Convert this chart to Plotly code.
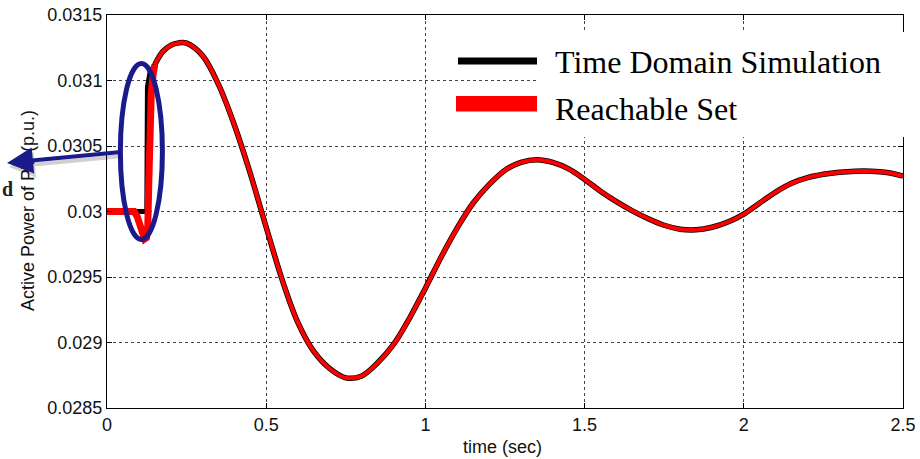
import plotly.graph_objects as go

# ---------------- data ----------------
# Time domain simulation: pre-disturbance and step part
tds_step_t = [0.0, 0.125, 0.127, 0.135, 0.150]
tds_step_v = [0.0300, 0.0300, 0.03095, 0.03106, 0.03112]

# Time domain simulation: oscillation after the step
tds_t = [0.15, 0.175, 0.20, 0.225, 0.25, 0.30, 0.35, 0.40, 0.45, 0.50,
         0.55, 0.60, 0.65, 0.70, 0.75, 0.80, 0.85, 0.90, 0.95, 1.00,
         1.05, 1.10, 1.15, 1.20, 1.25, 1.30, 1.35, 1.40, 1.45, 1.50,
         1.55, 1.60, 1.65, 1.70, 1.75, 1.80, 1.85, 1.90, 1.95, 2.00,
         2.05, 2.10, 2.15, 2.20, 2.25, 2.30, 2.35, 2.40, 2.45, 2.50]
tds_v = [0.03112, 0.03122, 0.031268, 0.031287, 0.031285, 0.03119, 0.03097, 0.03066,
         0.03029, 0.02988, 0.02948, 0.02915, 0.02893, 0.02880, 0.02873, 0.028745,
         0.028845, 0.028985, 0.029185, 0.029415, 0.029655, 0.029875, 0.030065,
         0.030205, 0.030315, 0.030375, 0.030395, 0.030375, 0.030325, 0.030245,
         0.030155, 0.030075, 0.030005, 0.029945, 0.029895, 0.029865, 0.029860,
         0.029880, 0.029920, 0.029980, 0.030065, 0.030148, 0.030215, 0.030258,
         0.030284, 0.030300, 0.030308, 0.030308, 0.030297, 0.030270]

# Reachable set: initial band with dip and rise
rs_start_t = [0.0, 0.085, 0.095, 0.105, 0.112, 0.118, 0.124, 0.128, 0.131,
              0.135, 0.139, 0.145, 0.150]
rs_start_v = [0.0300, 0.0300, 0.02996, 0.02988, 0.02982, 0.02979, 0.02980,
              0.02988, 0.03020, 0.03060, 0.03090, 0.03105, 0.03112]

# Reachable set after the rise (coincides with the simulation)
rs_t = list(tds_t)
rs_v = list(tds_v)

x_ticks = [0, 0.5, 1, 1.5, 2, 2.5]
x_ticktext = ["0", "0.5", "1", "1.5", "2", "2.5"]
y_ticks = [0.0285, 0.029, 0.0295, 0.03, 0.0305, 0.031, 0.0315]
y_ticktext = ["0.0285", "0.029", "0.0295", "0.03", "0.0305", "0.031", "0.0315"]

legend_labels = ["Time Domain Simulation", "Reachable Set"]
y_title = "Active Power of PV (p.u.)"
x_title = "time (sec)"

NAVY = "#1A1A8C"
W, H = 920, 459
ML, MR, MT, MB = 107, 17, 15, 51
PW, PH = W - ML - MR, H - MT - MB


def px(x):
    return (x - ML) / PW


def py(y):
    return (H - MB - y) / PH


fig = go.Figure()
fig.add_trace(go.Scatter(x=tds_step_t, y=tds_step_v, mode="lines",
                         line=dict(color="black", width=5),
                         name=legend_labels[0], showlegend=False))
fig.add_trace(go.Scatter(x=tds_t, y=tds_v, mode="lines",
                         line=dict(color="black", width=5.5, shape="spline", smoothing=1),
                         name=legend_labels[0], showlegend=False))
fig.add_trace(go.Scatter(x=rs_start_t, y=rs_start_v, mode="lines",
                         line=dict(color="#FF0000", width=7),
                         name=legend_labels[1], showlegend=False))
fig.add_trace(go.Scatter(x=rs_t, y=rs_v, mode="lines",
                         line=dict(color="#FF0000", width=4, shape="spline", smoothing=1),
                         name=legend_labels[1], showlegend=False))

axis_common = dict(showline=True, linecolor="black", linewidth=1, mirror="ticks",
                   ticks="inside", ticklen=5, tickcolor="black",
                   showgrid=True, gridcolor="#444444", griddash="dot", gridwidth=1,
                   zeroline=False, automargin=False,
                   tickfont=dict(family="Liberation Sans, Arial", size=18, color="#111111"))

fig.update_xaxes(range=[0, 2.5], tickvals=x_ticks, ticktext=x_ticktext, **axis_common)
fig.update_yaxes(range=[0.0285, 0.0315], tickvals=y_ticks, ticktext=y_ticktext, **axis_common)

shapes = [
    # ellipse around the initial transient
    dict(type="circle", xref="x", yref="y", x0=0.042, x1=0.174, y0=0.029786, y1=0.03113,
         line=dict(color=NAVY, width=5), layer="above"),
    # white legend background (hides grid and right axis)
    dict(type="rect", xref="paper", yref="paper", x0=px(538), x1=px(910), y0=py(137), y1=py(32),
         fillcolor="white", line=dict(width=0), layer="above"),
    # legend samples
    dict(type="line", xref="paper", yref="paper", x0=px(458), x1=px(537), y0=py(61), y1=py(61),
         line=dict(color="black", width=7), layer="above"),
    dict(type="rect", xref="paper", yref="paper", x0=px(456), x1=px(537), y0=py(111.5), y1=py(96),
         fillcolor="#FF0000", line=dict(width=0), layer="above"),
]

annotations = [
    dict(text=y_title, xref="paper", yref="paper", x=px(28), y=py(211), textangle=-90,
         showarrow=False, xanchor="center", yanchor="middle",
         font=dict(family="Liberation Sans, Arial", size=18, color="#111111")),
    dict(text=x_title, xref="paper", yref="paper", x=px(502.5), y=py(447),
         showarrow=False, xanchor="center", yanchor="middle",
         font=dict(family="Liberation Sans, Arial", size=18, color="#111111")),
    dict(text="<b>d</b>", xref="paper", yref="paper", x=px(0), y=py(189),
         showarrow=False, xanchor="left", yanchor="middle",
         font=dict(family="Liberation Serif, Times New Roman", size=20, color="#222222")),
    # arrow shadow
    dict(text="", xref="paper", yref="paper", x=px(9), y=py(167), ax=113, ay=-11,
         showarrow=True, arrowhead=2, arrowsize=1.3, arrowwidth=4,
         arrowcolor="rgba(0,0,0,0.18)", standoff=0),
    # arrow
    dict(text="", xref="paper", yref="paper", x=px(7), y=py(163), ax=113, ay=-11,
         showarrow=True, arrowhead=2, arrowsize=1.3, arrowwidth=4,
         arrowcolor=NAVY, standoff=0),
    dict(text=legend_labels[0], xref="paper", yref="paper", x=px(553), y=py(62),
         showarrow=False, xanchor="left", yanchor="middle",
         font=dict(family="Liberation Serif, Times New Roman", size=32, color="black")),
    dict(text=legend_labels[1], xref="paper", yref="paper", x=px(553), y=py(108.5),
         showarrow=False, xanchor="left", yanchor="middle",
         font=dict(family="Liberation Serif, Times New Roman", size=32, color="black")),
]

fig.update_layout(width=W, height=H, margin=dict(l=ML, r=MR, t=MT, b=MB),
                  paper_bgcolor="white", plot_bgcolor="white", showlegend=False,
                  shapes=shapes, annotations=annotations)

fig.write_html("out.html")
